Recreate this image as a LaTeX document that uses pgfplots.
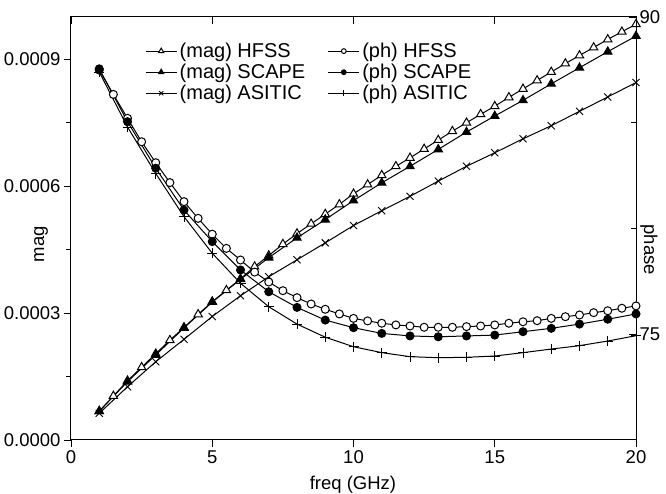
\documentclass[border=0pt]{standalone}
\usepackage{fontspec}
\setmainfont{Liberation Sans}
\usepackage{pgfplots}
\pgfplotsset{compat=1.18}

\pgfplotsset{
  common/.style={
    width=565pt, height=423pt, scale only axis,
    xmin=0, xmax=20, xtick={0,5,10,15,20},
    axis line style={line width=1pt},
    tick style={line width=0.9pt, black},
    major tick length=7pt, minor tick length=5pt,
    /pgf/number format/assume math mode=true,
    tick label style={font=\fontsize{18.5}{21}\selectfont},
    label style={font=\fontsize{18.5}{21}\selectfont, inner sep=0pt},
  },
  ser/.style={black, line width=1pt, mark options={solid, line width=0.9pt}},
}

\begin{document}
\begin{tikzpicture}
% left axis: magnitude
\begin{axis}[common,
  ymin=0, ymax=0.001,
  ytick={0,0.0003,0.0006,0.0009},
  minor ytick={0.00015,0.00045,0.00075},
  scaled y ticks=false,
  yticklabel style={/pgf/number format/.cd, fixed, fixed zerofill, precision=4},
  xtick pos=bottom, ytick pos=left, tick align=outside,
  xlabel={freq (GHz)}, ylabel={mag},
  xlabel style={at={(axis description cs:0.499,-0.106)}, anchor=center},
  ylabel style={at={(axis description cs:-0.053,0.463)}, anchor=center},
]
\coordinate (ll) at (rel axis cs:0,0);
\coordinate (ur) at (rel axis cs:1,1);

% (mag) HFSS
\addplot[ser, mark=triangle*, mark size=4.8pt, mark options={fill=white}] coordinates {
(1,0.000068) (1.5,0.000104) (2,0.000140) (2.5,0.000172) (3,0.000204)
(3.5,0.000236) (4,0.000266) (4.5,0.000297) (5,0.000327) (5.5,0.000354)
(6,0.000381) (6.5,0.000410) (7,0.000436) (7.5,0.000463) (8,0.000488)
(8.5,0.000511) (9,0.000534) (9.5,0.000557) (10,0.000582) (10.5,0.000604)
(11,0.000626) (11.5,0.000647) (12,0.000667) (12.5,0.000688) (13,0.000709)
(13.5,0.000730) (14,0.000750) (14.5,0.000770) (15,0.000789) (15.5,0.000810)
(16,0.000830) (16.5,0.000850) (17,0.000870) (17.5,0.000890) (18,0.000909)
(18.5,0.000928) (19,0.000947) (19.5,0.000965) (20,0.000983)
};
% (mag) SCAPE
\addplot[ser, mark=triangle*, mark size=4.8pt, mark options={fill=black}] coordinates {
(1,0.000068) (2,0.000138) (3,0.000201) (4,0.000265) (5,0.000326)
(6,0.000380) (7,0.000431) (8,0.000478) (9,0.000521) (10,0.000566)
(11,0.000608) (12,0.000647) (13,0.000687) (14,0.000728) (15,0.000766)
(16,0.000803) (17,0.000842) (18,0.000880) (19,0.000918) (20,0.000955)
};
% (mag) ASITIC
\addplot[ser, mark=x, mark size=5pt] coordinates {
(1,0.000063) (2,0.000126) (3,0.000185) (4,0.000238) (5,0.000292)
(6,0.000341) (7,0.000386) (8,0.000426) (9,0.000466) (10,0.000507)
(11,0.000542) (12,0.000576) (13,0.000612) (14,0.000647) (15,0.000679)
(16,0.000712) (17,0.000743) (18,0.000777) (19,0.000811) (20,0.000845)
};
\end{axis}

% right axis: phase
\begin{axis}[common,
  ymin=70, ymax=90,
  ytick={75,90}, minor ytick={80,85},
  xtick pos=top, ytick pos=right, tick align=inside,
  xticklabels={},
  ylabel={phase},
  ylabel style={at={(axis description cs:1.023,0.45)}, anchor=center, rotate=180},
  legend columns=2,
  legend cell align=left,
  legend image code/.code={\draw[mark repeat=2,mark phase=2,#1] plot coordinates {(0pt,0pt) (15.5pt,0pt) (31pt,0pt)};},
  legend style={draw=none, fill=none, inner sep=0pt,
    at={(axis description cs:0.131,0.943)}, anchor=north west,
    font=\fontsize{20}{23}\selectfont, row sep=1.5pt, column sep=0pt,
    /tikz/every even column/.append style={column sep=20pt},
    nodes={inner xsep=2.5pt, inner ysep=1.8pt, font=\fontsize{20}{23}\selectfont}},
]
\addlegendimage{ser, mark=triangle*, mark size=3pt, mark options={fill=white}}
\addlegendentry{(mag) HFSS}
\addlegendimage{ser, mark=*, mark size=2.4pt, mark options={fill=white}}
\addlegendentry{(ph) HFSS}
\addlegendimage{ser, mark=triangle*, mark size=3pt, mark options={fill=black}}
\addlegendentry{(mag) SCAPE}
\addlegendimage{ser, mark=*, mark size=2.4pt, mark options={fill=black}}
\addlegendentry{(ph) SCAPE}
\addlegendimage{ser, mark=x, mark size=3pt}
\addlegendentry{(mag) ASITIC}
\addlegendimage{ser, mark=+, mark size=3pt}
\addlegendentry{(ph) ASITIC}

% (ph) HFSS
\addplot[ser, forget plot, mark=*, mark size=4pt, mark options={fill=white}] coordinates {
(1,87.49) (1.5,86.34) (2,85.21) (2.5,84.10) (3,83.11)
(3.5,82.17) (4,81.27) (4.5,80.48) (5,79.73) (5.5,79.06)
(6,78.51) (6.5,77.94) (7,77.47) (7.5,77.06) (8,76.73)
(8.5,76.43) (9,76.18) (9.5,75.96) (10,75.75) (10.5,75.63)
(11,75.52) (11.5,75.44) (12,75.39) (12.5,75.33) (13,75.33)
(13.5,75.33) (14,75.36) (14.5,75.39) (15,75.44) (15.5,75.52)
(16,75.59) (16.5,75.64) (17,75.75) (17.5,75.83) (18,75.91)
(18.5,76.02) (19,76.11) (19.5,76.23) (20,76.34)
};
% (ph) SCAPE
\addplot[ser, forget plot, mark=*, mark size=4pt, mark options={fill=black}] coordinates {
(1,87.55) (2,85.05) (3,82.85) (4,80.87) (5,79.38)
(6,78.04) (7,77.01) (8,76.27) (9,75.67) (10,75.31)
(11,75.04) (12,74.92) (13,74.88) (14,74.92) (15,74.96)
(16,75.12) (17,75.28) (18,75.48) (19,75.71) (20,75.96)
};
% (ph) ASITIC
\addplot[ser, forget plot, mark=+, mark size=5pt] coordinates {
(1,87.40) (2,84.80) (3,82.60) (4,80.56) (5,78.83)
(6,77.41) (7,76.30) (8,75.48) (9,74.86) (10,74.41)
(11,74.13) (12,73.94) (13,73.89) (14,73.91) (15,73.97)
(16,74.13) (17,74.30) (18,74.46) (19,74.68) (20,74.93)
};
\end{axis}
\path ([shift={(-71pt,-54pt)}]ll) rectangle ([shift={(30pt,17pt)}]ur);
\end{tikzpicture}
\end{document}
